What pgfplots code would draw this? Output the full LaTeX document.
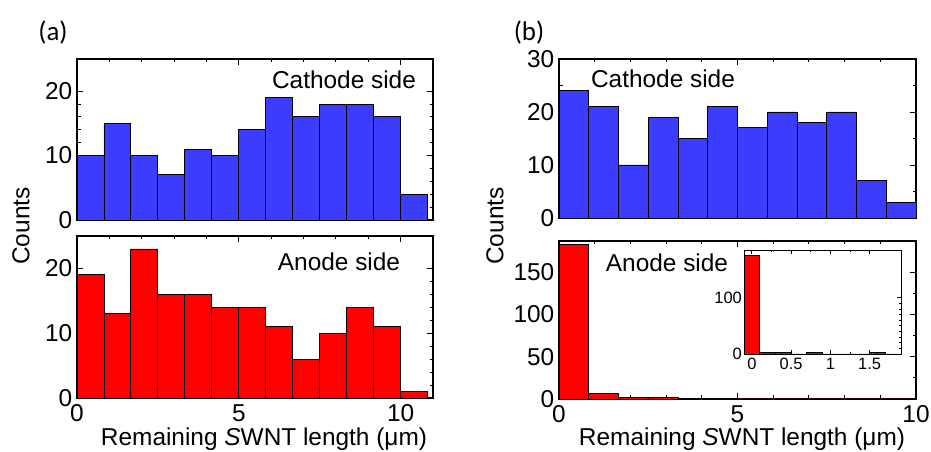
\documentclass[border=0pt]{standalone}
\usepackage{fontspec}
\setmainfont{Liberation Sans}
\newfontfamily\calfont{Carlito}
\usepackage{pgfplots}
\pgfplotsset{compat=1.18}

\definecolor{barblue}{RGB}{60,60,255}
\definecolor{barred}{RGB}{255,0,0}

\newcommand{\bigf}{\fontsize{24.5}{24.5}\selectfont}

\pgfplotsset{
  hist/.style={
    scale only axis, anchor=south west,
    tick align=inside,
    axis line style={line width=1.2bp, black},
    every tick/.style={black, line width=0.9bp},
    major tick length=6bp, minor tick length=3.5bp,
    tick label style={font=\bigf},
    yticklabel style={inner sep=4.5bp},
    xticklabel style={inner sep=6.5bp},
    /pgf/number format/assume math mode=true,
    ymin=0,
  },
  bars/.style={ybar interval, draw=black, line width=0.9bp},
}

\begin{document}
\begin{tikzpicture}[x=1bp,y=1bp]
\useasboundingbox (0,0) rectangle (931,452);

% (a) cathode
\begin{axis}[hist, at={(77bp,232bp)}, width=356bp, height=161bp,
  xmin=0, xmax=11, ymax=25,
  xtick={0,5,10}, minor x tick num=4, xticklabels={},
  ytick={0,10,20}, minor y tick num=4]
\addplot[bars, fill=barblue] coordinates {
(0,10) (0.8333,15) (1.6667,10) (2.5,7) (3.3333,11) (4.1667,10) (5,14)
(5.8333,19) (6.6667,16) (7.5,18) (8.3333,18) (9.1667,16) (10,4) (10.8333,4)};
\end{axis}

% (a) anode
\begin{axis}[hist, at={(77bp,54bp)}, width=356bp, height=162bp,
  xmin=0, xmax=11, ymax=25,
  xtick={0,5,10}, minor x tick num=4,
  ytick={0,10,20}, minor y tick num=4]
\addplot[bars, fill=barred] coordinates {
(0,19) (0.8333,13) (1.6667,23) (2.5,16) (3.3333,16) (4.1667,14) (5,14)
(5.8333,11) (6.6667,6) (7.5,10) (8.3333,14) (9.1667,11) (10,1) (10.8333,1)};
\end{axis}

% (b) cathode
\begin{axis}[hist, at={(559bp,234bp)}, width=357bp, height=159bp,
  xmin=0, xmax=10, ymax=30,
  xtick={0,5,10}, minor x tick num=4, xticklabels={},
  ytick={0,10,20,30}, minor y tick num=1]
\addplot[bars, fill=barblue] coordinates {
(0,24) (0.8333,21) (1.6667,10) (2.5,19) (3.3333,15) (4.1667,21) (5,17)
(5.8333,20) (6.6667,18) (7.5,20) (8.3333,7) (9.1667,3) (10,3)};
\end{axis}

% (b) anode
\begin{axis}[hist, at={(559bp,53bp)}, width=357bp, height=158bp,
  xmin=0, xmax=10, ymax=187,
  xtick={0,5,10}, minor x tick num=4,
  ytick={0,50,100,150}, minor y tick num=1]
\addplot[bars, fill=barred] coordinates {
(0,183) (0.8333,7) (1.6667,2) (2.5,2) (3.3333,1) (4.1667,1) (5,0)
(5.8333,0) (6.6667,0) (7.5,0) (8.3333,0) (9.1667,0) (10,0)};
\end{axis}

% inset
\begin{axis}[hist, at={(744bp,98bp)}, width=157bp, height=104bp,
  axis background/.style={fill=white},
  xmin=-0.1, xmax=1.9, ymax=185,
  xtick={0,0.5,1,1.5}, minor x tick num=1,
  ytick={0,100}, minor y tick num=9,
  major tick length=4bp, minor tick length=2bp,
  axis line style={line width=0.9bp, black},
  tick label style={font=\fontsize{16.5}{16.5}\selectfont},
  yticklabel style={inner sep=2bp},
  xticklabel style={/pgf/number format/fixed, inner sep=3.5bp}]
\addplot[bars, fill=barred, line width=0.7bp] coordinates {
(-0.1,176) (0.1,3) (0.3,3) (0.5,0) (0.7,3) (0.9,0) (1.1,0) (1.3,0)
(1.5,3) (1.7,0) (1.9,0)};
\end{axis}

% texts
\node[font=\bigf] at (344,372) {Cathode side};
\node[font=\bigf] at (339,190) {Anode side};
\node[font=\bigf] at (663,373) {Cathode side};
\node[font=\bigf] at (667,189) {Anode side};

\node[font=\bigf, rotate=90] at (21,226) {Counts};
\node[font=\bigf, rotate=90] at (495,226) {Counts};

\node[font=\bigf] at (264,13) {Remaining \textit{S}WNT length (μm)};
\node[font=\bigf] at (742,13) {Remaining \textit{S}WNT length (μm)};

\node[font={\calfont\fontsize{27}{27}\selectfont}] at (53,419) {(a)};
\node[font={\calfont\fontsize{27}{27}\selectfont}] at (529,419) {(b)};
\end{tikzpicture}
\end{document}
